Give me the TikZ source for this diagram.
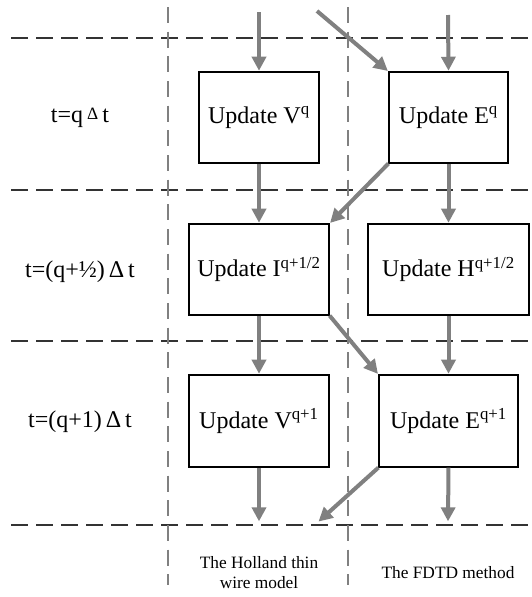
\documentclass[tikz,border=0pt]{standalone}
\usepackage{fontspec}
\setmainfont{Liberation Serif}
\usetikzlibrary{arrows.meta}
\begin{document}
\begin{tikzpicture}[x=0.75pt,y=-0.75pt,
  box/.style={draw=black, line width=0.9pt, fill=white, inner sep=0pt, font=\fontsize{18}{20}\selectfont},
  flow/.style={draw=black!50, line width=3pt, -{Triangle[length=10.5pt,width=10.5pt]}, shorten >=0.5pt},
  hgrid/.style={draw=black!80, line width=0.8pt, dash pattern=on 12.75pt off 6pt},
  vgrid/.style={draw=black!50, line width=0.8pt, dash pattern=on 12pt off 6.5pt},
  tlabel/.style={font=\fontsize{18}{20}\selectfont, inner sep=0pt},
  caption/.style={font=\fontsize{13}{15}\selectfont, align=center, inner sep=0pt}]
\useasboundingbox (0,0) rectangle (532,597);
\fill[white] (0,0) rectangle (532,597);
% grid
\draw[hgrid] (11,38) -- (532,38);
\draw[hgrid] (11,190) -- (532,190);
\draw[hgrid] (11,341) -- (532,341);
\draw[hgrid] (11,525) -- (532,525);
\draw[vgrid] (168,7) -- (168,585);
\draw[vgrid] (348,7) -- (348,585);
% labels
\node[tlabel] (l1) at (80,118) {t=q\,{\fontsize{13}{13}\selectfont\raisebox{2pt}{Δ}}\,t};
\node[tlabel] (l2) at (80,272) {t=(q+½)\,Δ\,t};
\node[tlabel] (l3) at (80,422) {t=(q+1)\,Δ\,t};
% boxes
\node[box, minimum width=90pt, minimum height=68.25pt] (Vq) at (259,117.5) {Update V\textsuperscript{q}};
\node[box, minimum width=89.25pt, minimum height=68.25pt] (Eq) at (448.5,117.5) {Update E\textsuperscript{q}};
\node[box, minimum width=105pt, minimum height=68.25pt] (I) at (259,269.5) {Update I\textsuperscript{q+1/2}};
\node[box, minimum width=120.75pt, minimum height=68.25pt] (H) at (448.5,269.5) {Update H\textsuperscript{q+1/2}};
\node[box, minimum width=105pt, minimum height=69pt] (V1) at (259,421) {Update V\textsuperscript{q+1}};
\node[box, minimum width=104.25pt, minimum height=69pt] (E1) at (448.5,421) {Update E\textsuperscript{q+1}};
% free ends
\coordinate (inV) at (259,12);
\coordinate (inE) at (448,15);
\coordinate (inD) at (317,11);
\coordinate (outV) at (259,522);
\coordinate (outD) at (318,522);
\coordinate (outE) at (448,522);
% arrows
\draw[flow] (inV) -- (Vq.north);
\draw[flow] (inE) -- (Eq.north);
\draw[flow] (inD) -- (Eq.north west);
\draw[flow] (Vq.south) -- (I.north);
\draw[flow] (Eq.south west) -- (I.north east);
\draw[flow] (Eq.south) -- (H.north);
\draw[flow] (I.south) -- (V1.north);
\draw[flow] (I.south east) -- (E1.north west);
\draw[flow] (H.south) -- (E1.north);
\draw[flow] (V1.south) -- (outV);
\draw[flow] (E1.south west) -- (outD);
\draw[flow] (E1.south) -- (outE);
% captions
\node[caption] (c1) at (259,573) {The Holland thin\\wire model};
\node[caption] (c2) at (448,573) {The FDTD method};
\end{tikzpicture}
\end{document}
